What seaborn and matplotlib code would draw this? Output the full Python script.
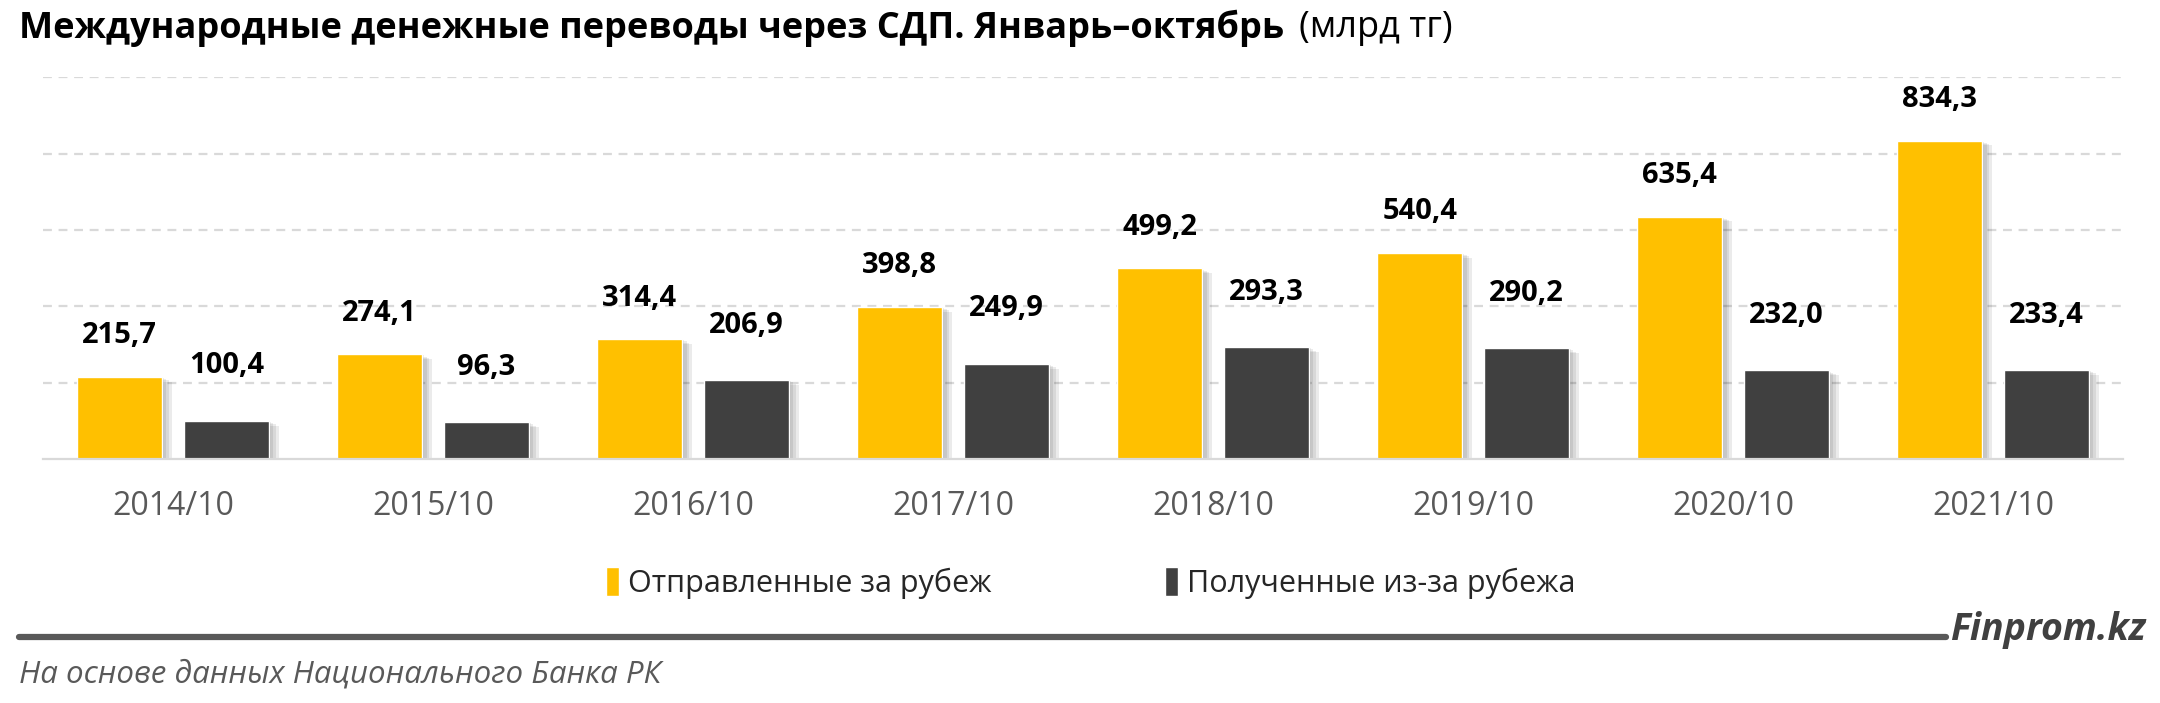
import numpy as np
import pandas as pd
import seaborn as sns
import matplotlib.pyplot as plt
import matplotlib.patheffects as pe
from matplotlib.lines import Line2D

# Данные (млрд тг)
periods = ['2014/10', '2015/10', '2016/10', '2017/10', '2018/10', '2019/10', '2020/10', '2021/10']
sent = [215.7, 274.1, 314.4, 398.8, 499.2, 540.4, 635.4, 834.3]
received = [100.4, 96.3, 206.9, 249.9, 293.3, 290.2, 232.0, 233.4]
series_names = ['Отправленные за рубеж', 'Полученные из-за рубежа']

df = pd.DataFrame({
    'Период': periods * 2,
    'Значение': sent + received,
    'Серия': [series_names[0]] * len(periods) + [series_names[1]] * len(periods),
})

YELLOW = '#FFC000'
DARK = '#404040'
GRAY = '#595959'

sns.set_theme(style='white')
plt.rcParams['font.family'] = ['Open Sans', 'DejaVu Sans']

fig = plt.figure(figsize=(21.6, 7.03), dpi=100)
ax = fig.add_axes([0.0199, 0.347, 0.963, 0.543])

sns.barplot(data=df, x='Период', y='Значение', hue='Серия',
            palette=[YELLOW, DARK], width=0.82, gap=0.2,
            saturation=1, ax=ax, legend=True)

# мягкая тень у столбиков
shadow = [pe.SimplePatchShadow(offset=(k, -k * 0.5), shadow_rgbFace='black', alpha=0.08)
          for k in (7, 5, 3, 1.5)]
for patch in ax.patches:
    patch.set_path_effects(shadow + [pe.Normal()])

# подписи значений
pads = [19, 29]
for cont, pad in zip(ax.containers, pads):
    ax.bar_label(cont, labels=[f'{v:.1f}'.replace('.', ',') for v in cont.datavalues],
                 padding=pad, fontsize=21, fontweight='bold', color='black')

ax.set_ylim(0, 1000)
ax.set_yticks([200, 400, 600, 800, 1000])
ax.set_yticklabels([])
ax.tick_params(axis='y', length=0)
ax.yaxis.grid(True, linestyle=(0, (4, 3)), color='#D9D9D9', linewidth=1.6)
ax.set_axisbelow(True)
ax.set_xlabel('')
ax.set_ylabel('')
ax.tick_params(axis='x', length=0, pad=22, labelsize=23, labelcolor=GRAY)
for side in ['left', 'right', 'top']:
    ax.spines[side].set_visible(False)
ax.spines['bottom'].set_color('#D9D9D9')
ax.spines['bottom'].set_linewidth(1.6)
ax.set_xlim(-0.5, len(periods) - 0.5)

# легенда
handles, labels = ax.get_legend_handles_labels()
ax.legend_.remove()
for h in handles:
    h.set_path_effects([])
fig.legend(handles, labels, loc='center', bbox_to_anchor=(0.505, 0.171), ncol=2,
           frameon=False, fontsize=22, handlelength=0.4, handleheight=1.1,
           handletextpad=0.3, columnspacing=5.7, labelcolor='#262626')

# заголовок
fig.text(0.009, 0.96, 'Международные денежные переводы через СДП. Январь–октябрь',
         fontsize=26, fontweight='bold', va='center', ha='left', color='black')
fig.text(0.6015, 0.96, '(млрд тг)', fontsize=26, va='center', ha='left', color='black')

# нижняя линия и подпись
fig.add_artist(Line2D([0.009, 0.901], [0.094, 0.094], transform=fig.transFigure,
                      color=GRAY, linewidth=4.5))
fig.text(0.9935, 0.104, 'Finprom.kz', fontsize=27, fontweight='bold', style='italic',
         color=DARK, ha='right', va='center')
fig.text(0.009, 0.04, 'На основе данных Национального Банка РК', fontsize=22.5,
         style='italic', color=GRAY, ha='left', va='center')

fig.savefig('out.png', dpi=100)
